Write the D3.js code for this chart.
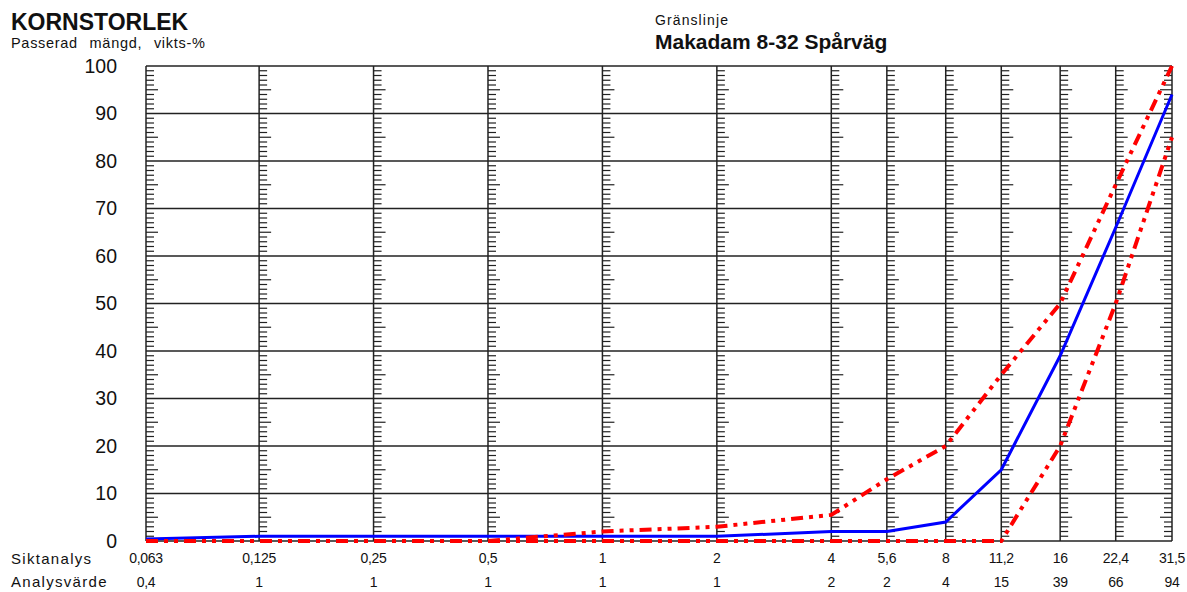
<!DOCTYPE html>
<html>
<head>
<meta charset="utf-8">
<script src="https://cdn.jsdelivr.net/npm/d3@7/dist/d3.min.js"></script>
<style>
  body { margin: 0; background: #fff; }
  svg { display: block; font-family: "Liberation Sans", Arial, sans-serif; }
</style>
</head>
<body>
<svg id="chart" width="1187" height="592"></svg>
<script>
// Sieve sizes (mm) and their printed labels
const sieves = [0.063, 0.125, 0.25, 0.5, 1, 2, 4, 5.6, 8, 11.2, 16, 22.4, 31.5];
const sieveLabels = ["0,063", "0,125", "0,25", "0,5", "1", "2", "4", "5,6", "8", "11,2", "16", "22,4", "31,5"];
// Measured passing percentage
const analysis = [0.4, 1, 1, 1, 1, 1, 2, 2, 4, 15, 39, 66, 94];
// Grading envelope for Makadam 8-32 Spårväg
const upperLimit = [0, 0, 0, 0, 2, 3, 5.5, 13, 20, 35, 50, 75, 100];
const lowerLimit = [0, 0, 0, 0, 0, 0, 0, 0, 0, 0, 20, 50, 85];
const yTicks = [0, 10, 20, 30, 40, 50, 60, 70, 80, 90, 100];

const svg = d3.select("#chart");
const x = d3.scaleLog().base(2).domain([0.063, 31.5]).range([146, 1172]);
const y = d3.scaleLinear().domain([0, 100]).range([541, 66]);

// Horizontal grid every 10 %
svg.append("g").selectAll("line").data(yTicks).join("line")
  .attr("x1", x(sieves[0])).attr("x2", x(sieves[sieves.length - 1]))
  .attr("y1", d => y(d)).attr("y2", d => y(d))
  .attr("stroke", "#222").attr("stroke-width", 1.5);

// Vertical grid at each sieve
svg.append("g").selectAll("line").data(sieves).join("line")
  .attr("x1", d => x(d)).attr("x2", d => x(d))
  .attr("y1", y(0)).attr("y2", y(100))
  .attr("stroke", "#222").attr("stroke-width", 1.5);

// Percent scale ticks along every sieve line (right-pointing, last one left-pointing)
const minor = d3.range(0, 101).filter(v => v % 10 !== 0);
sieves.forEach((s, i) => {
  const dir = i === sieves.length - 1 ? -1 : 1;
  svg.append("g").selectAll("line").data(minor).join("line")
    .attr("x1", x(s)).attr("x2", d => x(s) + dir * (d % 5 === 0 ? 12 : 8))
    .attr("y1", d => y(d)).attr("y2", d => y(d))
    .attr("stroke", "#222").attr("stroke-width", 1.2);
});

// Y axis labels
const yAxis = d3.axisLeft(y).tickValues(yTicks).tickSize(0).tickPadding(0);
const yg = svg.append("g").attr("transform", "translate(117,0)").call(yAxis);
yg.select(".domain").remove();
yg.selectAll("text")
  .attr("font-size", 19.5).attr("fill", "#111")
  .attr("font-family", "Liberation Sans, Arial, sans-serif");

// Bottom rows: sieve sizes and analysis values
svg.append("g").selectAll("text").data(sieveLabels).join("text")
  .attr("x", (d, i) => x(sieves[i])).attr("y", 563)
  .attr("text-anchor", "middle").attr("font-size", 14).attr("fill", "#111")
  .attr("letter-spacing", -0.3)
  .text(d => d);
svg.append("g").selectAll("text").data(analysis).join("text")
  .attr("x", (d, i) => x(sieves[i])).attr("y", 587)
  .attr("text-anchor", "middle").attr("font-size", 14).attr("fill", "#111")
  .attr("letter-spacing", -0.3)
  .text(d => String(d).replace(".", ","));

svg.append("text").attr("x", 11).attr("y", 564).attr("font-size", 15)
  .attr("letter-spacing", 1.3).attr("fill", "#111").text("Siktanalys");
svg.append("text").attr("x", 11).attr("y", 587).attr("font-size", 15)
  .attr("letter-spacing", 1.3).attr("fill", "#111").text("Analysvärde");

// Titles
svg.append("text").attr("x", 11).attr("y", 29.5).attr("font-size", 23).attr("font-weight", "bold")
  .attr("fill", "#111").text("KORNSTORLEK");
svg.append("text").attr("x", 11).attr("y", 48).attr("font-size", 14.5).attr("fill", "#111")
  .attr("letter-spacing", 0.7).attr("word-spacing", 7).text("Passerad mängd, vikts-%");
svg.append("text").attr("x", 655).attr("y", 25).attr("font-size", 14).attr("fill", "#111")
  .attr("letter-spacing", 1.1).text("Gränslinje");
svg.append("text").attr("x", 655).attr("y", 49).attr("font-size", 21).attr("font-weight", "bold")
  .attr("fill", "#111").text("Makadam 8-32 Spårväg");

// Curves
const line = d3.line().x((d, i) => x(sieves[i])).y(d => y(d));

svg.append("path").datum(analysis).attr("d", line)
  .attr("fill", "none").attr("stroke", "#0000ff").attr("stroke-width", 3);

[upperLimit, lowerLimit].forEach(series => {
  svg.append("path").datum(series).attr("d", line)
    .attr("fill", "none").attr("stroke", "#ff0000").attr("stroke-width", 4)
    .attr("stroke-dasharray", "12,6,4,6,4,6");
});
</script>
</body>
</html>
